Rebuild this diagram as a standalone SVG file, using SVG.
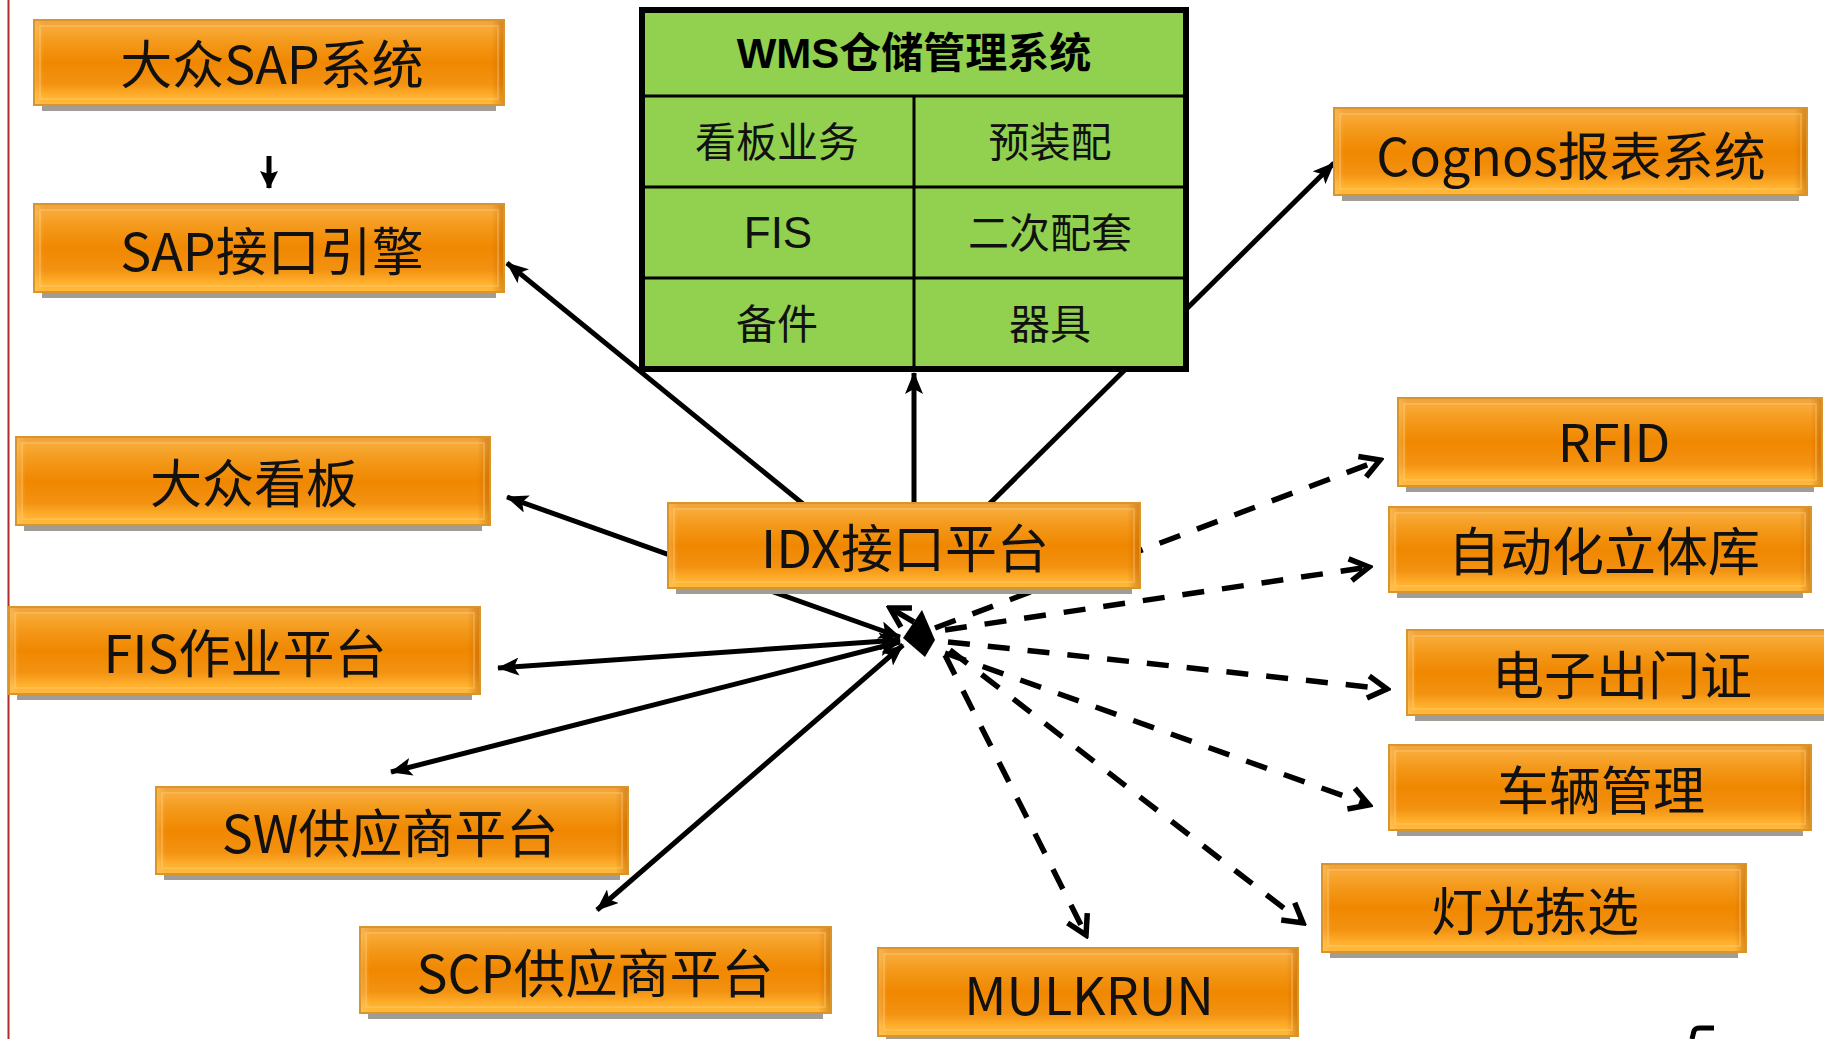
<svg xmlns="http://www.w3.org/2000/svg" width="1824" height="1039" viewBox="0 0 1824 1039">
<defs>
<linearGradient id="og" x1="0" y1="0" x2="0" y2="1">
<stop offset="0" stop-color="#EFA23E"/>
<stop offset="0.1" stop-color="#F8A936"/>
<stop offset="0.25" stop-color="#F49A1C"/>
<stop offset="0.5" stop-color="#F08700"/>
<stop offset="0.75" stop-color="#F39212"/>
<stop offset="0.9" stop-color="#FFB12E"/>
<stop offset="1" stop-color="#FFBA3C"/>
</linearGradient>
<linearGradient id="side" x1="0" y1="0" x2="1" y2="0">
<stop offset="0" stop-color="#FFD080" stop-opacity="0.35"/>
<stop offset="0.02" stop-color="#FFD080" stop-opacity="0"/>
<stop offset="0.975" stop-color="#B86000" stop-opacity="0"/>
<stop offset="1" stop-color="#B86000" stop-opacity="0.45"/>
</linearGradient>
<marker id="ah" viewBox="0 0 22 18" refX="21" refY="9" markerWidth="22" markerHeight="18" markerUnits="userSpaceOnUse" orient="auto-start-reverse">
<path d="M0,0 L22,9 L0,18 L5,9 z" fill="#000"/>
</marker>
<marker id="ahs" viewBox="0 0 18 18" refX="17" refY="9" markerWidth="18" markerHeight="18" markerUnits="userSpaceOnUse" orient="auto">
<path d="M0,0 L18,9 L0,18 L3,9 z" fill="#000"/>
</marker>
<marker id="oa" viewBox="0 0 26 28" refX="22" refY="14" markerWidth="26" markerHeight="28" markerUnits="userSpaceOnUse" orient="auto">
<path d="M3,3 L22,14 L3,25" fill="none" stroke="#000" stroke-width="5.5" stroke-dasharray="none"/>
</marker>
</defs>
<style>
.sh{fill:#A29C96}
.bx{fill:url(#og);stroke:#D8952C;stroke-width:2}
.bv{fill:url(#side)}
.hl{fill:none;stroke:#FFD38A;stroke-opacity:0.45;stroke-width:1.5}
.ot{font-family:"Noto Sans CJK SC","Noto Sans",sans-serif;font-size:52px;fill:#111;text-anchor:middle}
.ct{font-family:"Liberation Sans","Noto Sans CJK SC",sans-serif;font-size:41px;fill:#111;text-anchor:middle}
.tt{font-family:"Liberation Sans","Noto Sans CJK SC",sans-serif;font-size:42px;font-weight:bold;fill:#000;text-anchor:middle}
.sl{fill:none;stroke:#000;stroke-width:5}
.dl{fill:none;stroke:#000;stroke-width:5.5;stroke-dasharray:22 18}
</style>
<rect x="0" y="0" width="1824" height="1039" fill="#FFFFFF"/>
<line x1="8.5" y1="0" x2="8.5" y2="1039" stroke="#B02A30" stroke-width="2"/>

<g id="connectors">
<line class="sl" x1="269" y1="156" x2="269" y2="188" stroke-width="4" marker-end="url(#ahs)"/>
<line class="sl" x1="840" y1="534" x2="507" y2="263" marker-end="url(#ah)"/>
<line class="sl" x1="914" y1="540" x2="914" y2="373" marker-end="url(#ah)"/>
<line class="sl" x1="960" y1="533" x2="1334" y2="163" marker-end="url(#ah)"/>
<line class="sl" x1="900" y1="637" x2="507" y2="497" marker-start="url(#ah)" marker-end="url(#ah)"/>
<line class="sl" x1="900" y1="640" x2="498" y2="668" marker-start="url(#ah)" marker-end="url(#ah)"/>
<line class="sl" x1="900" y1="642" x2="391" y2="772" marker-start="url(#ah)" marker-end="url(#ah)"/>
<line class="sl" x1="903" y1="645" x2="597" y2="910" marker-start="url(#ah)" marker-end="url(#ah)"/>
<path d="M922,610 L935,640 L925,657 L903,638 z" fill="#000"/>
<line class="dl" x1="914" y1="622" x2="890" y2="608" stroke-dasharray="none" marker-end="url(#oa)"/>
<line class="dl" x1="935" y1="628" x2="1380" y2="460" marker-end="url(#oa)"/>
<line class="dl" x1="945" y1="630" x2="1369" y2="567" marker-end="url(#oa)"/>
<line class="dl" x1="948" y1="642" x2="1387" y2="689" marker-end="url(#oa)"/>
<line class="dl" x1="945" y1="653" x2="1369" y2="805" marker-end="url(#oa)"/>
<line class="dl" x1="950" y1="650" x2="1303" y2="923" marker-end="url(#oa)"/>
<line class="dl" x1="945" y1="655" x2="1086" y2="935" marker-end="url(#oa)"/>
</g>

<g id="wms">
<rect x="642" y="10" width="544" height="359" fill="#92D050" stroke="#000" stroke-width="6"/>
<line x1="642" y1="96" x2="1186" y2="96" stroke="#000" stroke-width="3"/>
<line x1="642" y1="187" x2="1186" y2="187" stroke="#000" stroke-width="3"/>
<line x1="642" y1="278" x2="1186" y2="278" stroke="#000" stroke-width="3"/>
<line x1="914" y1="96" x2="914" y2="369" stroke="#000" stroke-width="3"/>
<text class="tt" x="914" y="68">WMS仓储管理系统</text>
<text class="ct" x="777" y="157">看板业务</text>
<text class="ct" x="1050" y="157">预装配</text>
<text class="ct" x="778" y="248" style="font-size:44px">FIS</text>
<text class="ct" x="1050" y="248">二次配套</text>
<text class="ct" x="777" y="339">备件</text>
<text class="ct" x="1050" y="339">器具</text>
</g>

<g id="n-sap"><rect class="sh" x="42" y="26" width="454" height="85"/><rect class="bx" x="34" y="20" width="470" height="85"/><rect class="bv" x="35" y="21" width="468" height="83"/><rect class="hl" x="40" y="26" width="458" height="73"/><text class="ot" x="272" y="84">大众SAP系统</text></g>
<g id="n-sapif"><rect class="sh" x="42" y="210" width="454" height="88"/><rect class="bx" x="34" y="204" width="470" height="88"/><rect class="bv" x="35" y="205" width="468" height="86"/><rect class="hl" x="40" y="210" width="458" height="76"/><text class="ot" x="272" y="271">SAP接口引擎</text></g>
<g id="n-kanban"><rect class="sh" x="24" y="443" width="458" height="88"/><rect class="bx" x="16" y="437" width="474" height="88"/><rect class="bv" x="17" y="438" width="472" height="86"/><rect class="hl" x="22" y="443" width="462" height="76"/><text class="ot" x="254" y="503">大众看板</text></g>
<g id="n-fis"><rect class="sh" x="17" y="613" width="455" height="87"/><rect class="bx" x="9" y="607" width="471" height="87"/><rect class="bv" x="10" y="608" width="469" height="85"/><rect class="hl" x="15" y="613" width="459" height="75"/><text class="ot" x="245" y="673">FIS作业平台</text></g>
<g id="n-sw"><rect class="sh" x="164" y="793" width="456" height="87"/><rect class="bx" x="156" y="787" width="472" height="87"/><rect class="bv" x="157" y="788" width="470" height="85"/><rect class="hl" x="162" y="793" width="460" height="75"/><text class="ot" x="390" y="853">SW供应商平台</text></g>
<g id="n-scp"><rect class="sh" x="368" y="933" width="455" height="86"/><rect class="bx" x="360" y="927" width="471" height="86"/><rect class="bv" x="361" y="928" width="469" height="84"/><rect class="hl" x="366" y="933" width="459" height="74"/><text class="ot" x="595" y="993">SCP供应商平台</text></g>
<g id="n-cognos"><rect class="sh" x="1342" y="114" width="457" height="87"/><rect class="bx" x="1334" y="108" width="473" height="87"/><rect class="bv" x="1335" y="109" width="471" height="85"/><rect class="hl" x="1340" y="114" width="461" height="75"/><text class="ot" x="1571" y="176">Cognos报表系统</text></g>
<g id="n-rfid"><rect class="sh" x="1406" y="404" width="408" height="88"/><rect class="bx" x="1398" y="398" width="424" height="88"/><rect class="bv" x="1399" y="399" width="422" height="86"/><rect class="hl" x="1404" y="404" width="412" height="76"/><text class="ot" x="1614" y="462">RFID</text></g>
<g id="n-idx"><rect class="sh" x="676" y="509" width="456" height="85"/><rect class="bx" x="668" y="503" width="472" height="85"/><rect class="bv" x="669" y="504" width="470" height="83"/><rect class="hl" x="674" y="509" width="460" height="73"/><text class="ot" x="905" y="568">IDX接口平台</text></g>
<g id="n-asrs"><rect class="sh" x="1397" y="513" width="406" height="85"/><rect class="bx" x="1389" y="507" width="422" height="85"/><rect class="bv" x="1390" y="508" width="420" height="83"/><rect class="hl" x="1395" y="513" width="410" height="73"/><text class="ot" x="1604" y="571">自动化立体库</text></g>
<g id="n-gate"><rect class="sh" x="1415" y="636" width="414" height="85"/><rect class="bx" x="1407" y="630" width="430" height="85"/><rect class="bv" x="1408" y="631" width="428" height="83"/><rect class="hl" x="1413" y="636" width="418" height="73"/><text class="ot" x="1622" y="695">电子出门证</text></g>
<g id="n-vehicle"><rect class="sh" x="1397" y="751" width="406" height="85"/><rect class="bx" x="1389" y="745" width="422" height="85"/><rect class="bv" x="1390" y="746" width="420" height="83"/><rect class="hl" x="1395" y="751" width="410" height="73"/><text class="ot" x="1601" y="810">车辆管理</text></g>
<g id="n-light"><rect class="sh" x="1330" y="870" width="408" height="88"/><rect class="bx" x="1322" y="864" width="424" height="88"/><rect class="bv" x="1323" y="865" width="422" height="86"/><rect class="hl" x="1328" y="870" width="412" height="76"/><text class="ot" x="1535" y="931">灯光拣选</text></g>
<g id="n-mulkrun"><rect class="sh" x="886" y="954" width="404" height="88"/><rect class="bx" x="878" y="948" width="420" height="88"/><rect class="bv" x="879" y="949" width="418" height="86"/><rect class="hl" x="884" y="954" width="408" height="76"/><text class="ot" x="1089" y="1015">MULKRUN</text></g>

<path d="M1692,1039 L1694,1031 Q1695,1028 1700,1028 L1714,1028" fill="none" stroke="#000" stroke-width="5"/>
</svg>
